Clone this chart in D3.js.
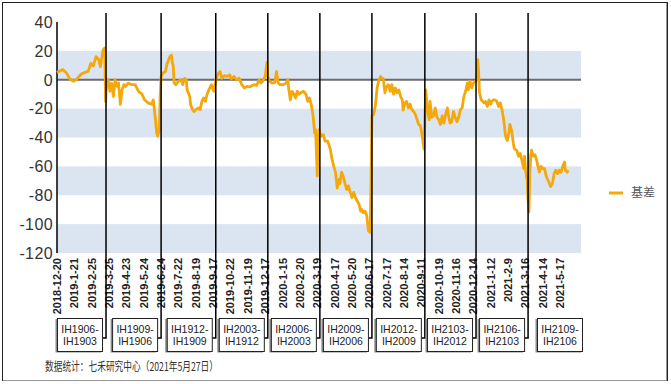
<!DOCTYPE html>
<html><head><meta charset="utf-8">
<script src="https://cdn.jsdelivr.net/npm/d3@7/dist/d3.min.js"></script>
<style>body{margin:0;background:#fff}svg{display:block}</style>
</head><body>
<svg id="c" width="671" height="384"></svg>
<script>
// ---- data ----
const xTickLabels = ["2018-12-20","2019-1-21","2019-2-25","2019-3-25","2019-4-23","2019-5-24","2019-6-24","2019-7-22","2019-8-19","2019-9-17","2019-10-22","2019-11-19","2019-12-17","2020-1-15","2020-2-20","2020-3-19","2020-4-17","2020-5-20","2020-6-17","2020-7-17","2020-8-14","2020-9-11","2020-10-19","2020-11-16","2020-12-14","2021-1-12","2021-2-9","2021-3-16","2021-4-14","2021-5-17"];
const tickStep = 20; // trading days between x labels
const yTicks = [40,20,0,-20,-40,-60,-80,-100,-120];
const bandRanges = [[0,20],[-40,-20],[-80,-60],[-120,-100]];
const rollDays = [56.5,120,183,243,303,363,424,483,543];
const contractLabels = [["IH1906-","IH1903"],["IH1909-","IH1906"],["IH1912-","IH1909"],["IH2003-","IH1912"],["IH2006-","IH2003"],["IH2009-","IH2006"],["IH2012-","IH2009"],["IH2103-","IH2012"],["IH2106-","IH2103"],["IH2109-","IH2106"]];
const seriesName = "基差";
const sourceText = "数据统计：七禾研究中心（2021年5月27日）";
const days = [0,3,7,11,15,19,22,25,28,32,36,39,42,45,48,50,53,55,56,57,59,61,63,65,67,69,71,73,75,77,79,82,86,90,94,98,101,105,109,111,113,115,116,118,119,120,122,125,127,128,130,132,133,134,135,137,140,143,145,147,149,150,153,154,156,158,160,163,165,167,169,171,173,175,177,178,180,181,183,186,188,190,193,196,199,201,204,207,210,213,216,219,222,225,227,230,233,235,237,240,242,243,245,248,251,253,255,257,261,264,266,267,269,271,273,275,277,279,281,284,287,289,291,293,295,297,298,300,301,302,303,305,307,309,312,315,317,319,321,323,325,326,328,330,332,334,336,338,340,342,344,346,348,350,351,353,355,357,359,361,362,363,365,367,369,371,373,374,376,378,380,382,384,386,388,390,392,394,396,398,399,401,403,405,407,409,411,413,415,417,419,421,423,425,427,429,430,432,434,436,438,440,442,444,446,448,450,451,453,455,457,459,461,463,465,467,469,471,473,474,476,478,480,482,484,485,486,487,489,491,492,494,496,498,500,501,503,505,507,509,511,513,515,517,519,521,522,524,526,527,530,532,534,536,538,539,540,542,543,544,545,546,547,549,551,553,554,556,558,560,562,564,566,567,569,571,573,575,577,579,581,583,585,586,588,589];
const basis = [5,6,7,4.6,0.5,-1,0,2,4,5,6,11.5,9.7,16,14,9,20.7,22,-15,-4.6,0,-8,-2.3,-11.5,0,-4.6,-2.3,-17,-7,-3.4,-4.6,-2.3,-3.4,-3.4,-8,-10,-14,-16,-17,-14,-25,-37,-39,-34,-10,2,4.6,5.7,11.5,12.6,16,17,11.5,10,-2.3,-3.4,-1,0,-3.4,1,0,-7,-11.5,-17,-20.7,-22,-20.7,-19.5,-20.7,-15,-12.6,-15,-10,-7,-4.6,-3.4,-7,-8,0,4.6,5.7,1,2.8,2.3,3.4,0.5,2.3,0,1,-3.4,-5.7,-4.6,-5,-4,-3.4,-4,0,-2.3,-1,2.3,12,2.3,-1,-2.3,-2,5.7,-2.3,-3.4,-3.4,-2.3,0,-5.7,-14,-8,-10,-12.6,-8,-10,-9,-8,-10,-15,-12.6,-17,-24,-37,-34.5,-66.7,-41,-34.5,-37,-39,-38,-42.5,-42.5,-48,-55,-60,-64,-75,-69,-72,-64,-67,-72,-76,-73.5,-78,-81.6,-78,-81.6,-84,-86,-91,-89.7,-92,-91,-94,-104.6,-105.7,-69,-25,-24,-18,-5.7,0,2.3,1,1,-9,-4.6,-3.4,-8,-3.4,-10,-5.7,-9,-7,-11.5,-14,-21,-16,-15,-19.5,-17,-20.7,-22,-24,-27.6,-31,-32,-39,-48,-7,-20.7,-27.6,-15,-26,-25,-19.5,-26,-27.6,-31,-25,-30,-24,-19.5,-24,-30,-29,-22,-26,-29,-26,-20.7,-19.5,-11.5,-8,-2.3,-7,-1,-5.7,-2.3,-1,0,14,5,-9,-14,-15,-16,-15,-18.5,-14,-17,-15,-14,-14,-15,-18.5,-16,-21,-28,-39,-42,-36,-31,-35,-44,-47.5,-49,-53,-51,-56,-61.5,-53,-62.6,-69.6,-83.5,-91.6,-65,-53,-48.7,-53,-52,-56,-59,-64,-60,-61.5,-61.5,-67,-69.6,-71,-74,-72,-65,-62.6,-65,-62.6,-64,-60,-57,-62.6,-64,-62.6];

// ---- chart ----
const svg = d3.select("#c");
const plot = {l:57, r:581, t:22, b:253};
const x = d3.scaleLinear().domain([0, 604]).range([plot.l, plot.r]);
const y = d3.scaleLinear().domain([-120, 40]).range([plot.b, plot.t]);
const orange = "#F4A80C";

// frame
svg.append("rect").attr("x",2.5).attr("y",2.5).attr("width",665).attr("height",378)
  .attr("fill","#fff").attr("stroke","#222").attr("stroke-width",1);
svg.append("path").attr("d",`M666.5,3V380.5H3`).attr("fill","none").attr("stroke","#999").attr("stroke-width",1);

// bands
svg.append("g").selectAll("rect").data(bandRanges).join("rect")
  .attr("x", plot.l).attr("width", plot.r - plot.l)
  .attr("y", d => y(d[1])).attr("height", d => y(d[0]) - y(d[1]))
  .attr("fill", "#dbe5f1");

// zero line
svg.append("line").attr("x1",plot.l).attr("x2",plot.r).attr("y1",y(0)).attr("y2",y(0))
  .attr("stroke","#6b6b6b").attr("stroke-width",2);

// y axis labels
svg.append("g").selectAll("text").data(yTicks).join("text")
  .attr("x", 53).attr("y", d => y(d)).attr("dy","0.36em")
  .attr("text-anchor","end").attr("font-family","'Liberation Sans', Arial, sans-serif")
  .attr("font-size",16).attr("letter-spacing","0.4px").attr("fill","#333").text(d => d);

// y axis line
svg.append("line").attr("x1",plot.l).attr("x2",plot.l).attr("y1",plot.t).attr("y2",plot.b)
  .attr("stroke","#000").attr("stroke-width",1.5);

// x tick labels
svg.append("g").selectAll("text").data(xTickLabels).join("text")
  .attr("transform", (d,i) => `translate(${x(i*tickStep)},258) rotate(-90)`)
  .attr("dy","0.36em").attr("text-anchor","end")
  .attr("font-family","'Liberation Sans', Arial, sans-serif").attr("font-weight","bold")
  .attr("font-size",11).attr("fill","#222").text(d => d);

// series line
const line = d3.line().x((d,i) => x(days[i])).y(d => y(d));
svg.append("path").datum(basis).attr("d", line).attr("fill","none")
  .attr("stroke", orange).attr("stroke-width",2.8).attr("stroke-linejoin","round");

// contract boxes and connectors
const boxW = 45, boxH = 33, boxTop = 318, elbowY = 338;
const boxRight = contractLabels.map((c,i) => i < rollDays.length ? x(rollDays[i]) - 4 : plot.r + 1);
const gBox = svg.append("g");
rollDays.forEach((d,i) => {
  const lx = x(d);
  gBox.append("path").attr("d", `M${lx},13V${elbowY}H${boxRight[i]}`)
    .attr("fill","none").attr("stroke","#000").attr("stroke-width",1.5);
});
contractLabels.forEach((c,i) => {
  const rx = boxRight[i] - boxW;
  gBox.append("path").attr("d", `M${rx-0.5},${boxTop+1}V${boxTop+boxH+0.5}H${rx+boxW-1}`)
    .attr("fill","none").attr("stroke","#8a8a8a").attr("stroke-width",2);
  gBox.append("rect").attr("x",rx+0.5).attr("y",boxTop+0.5).attr("width",boxW).attr("height",boxH)
    .attr("fill","#fff").attr("stroke","#222").attr("stroke-width",1);
  const t = gBox.append("text").attr("text-anchor","middle")
    .attr("font-family","'Liberation Sans', Arial, sans-serif").attr("font-size",10.5).attr("fill","#222");
  t.append("tspan").attr("x", rx + boxW/2 + 0.5).attr("y", boxTop + 15).text(c[0]);
  t.append("tspan").attr("x", rx + boxW/2 + 0.5).attr("y", boxTop + 27).text(c[1]);
});

// legend
svg.append("line").attr("x1",609).attr("x2",623).attr("y1",193).attr("y2",193)
  .attr("stroke",orange).attr("stroke-width",3);
svg.append("text").attr("x",631).attr("y",193).attr("dy","0.36em")
  .attr("font-family","'Noto Sans CJK SC', sans-serif").attr("font-size",12).attr("fill","#555").text(seriesName);

// source
svg.append("text").attr("x",45).attr("y",371)
  .attr("font-family","'Noto Sans CJK SC', sans-serif").attr("font-size",12).attr("fill","#333")
  .attr("textLength",173).attr("lengthAdjust","spacingAndGlyphs").text(sourceText);
</script>
</body></html>
